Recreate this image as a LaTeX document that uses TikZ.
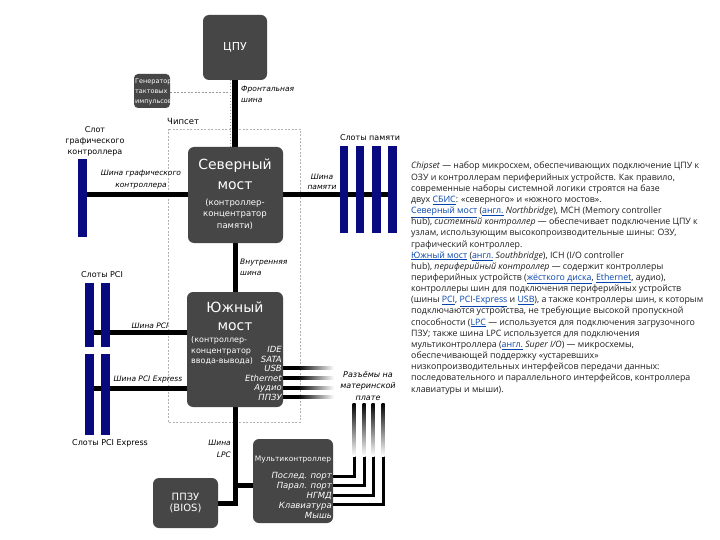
\documentclass[tikz,border=0pt]{standalone}
\usepackage{fontspec}
\setmainfont{DejaVu Sans}
\newfontfamily\parfont{Open Sans}
\usetikzlibrary{calc,backgrounds}
\definecolor{boxgray}{RGB}{70,70,70}
\definecolor{slotblue}{RGB}{10,10,128}
\definecolor{linkblue}{RGB}{6,69,173}
\definecolor{partext}{RGB}{30,30,30}
\newcommand\lnk[1]{\textcolor{linkblue}{\underline{#1}}}
\begin{document}
\begin{tikzpicture}[x=1pt,y=-1pt,
  box/.style={fill=boxgray, rounded corners=6pt, inner sep=0pt, outer sep=0pt},
  slot/.style={fill=slotblue, inner sep=0pt, outer sep=0pt},
  bus/.style={line width=5pt, black},
  lbl/.style={inner sep=0pt, align=center, font=\fontsize{8}{11}\selectfont},
  ilbl/.style={inner sep=0pt, align=center, font=\fontsize{7.5}{11}\selectfont\itshape},
  wtxt/.style={inner sep=0pt, text=white, align=center},
  chipset/.style={draw=gray!60, dashed, dash pattern=on 2pt off 1.5pt, line width=0.7pt}
]
\useasboundingbox (0,0) rectangle (720,540);

% boxes
\node[box, minimum width=64pt, minimum height=65pt] (cpu) at (235,47.5) {};
\node[box, rounded corners=4pt, minimum width=36pt, minimum height=34pt] (clk) at (152,91) {};
\node[box, minimum width=95pt, minimum height=96pt] (nb) at (235.5,195) {};
\node[box, minimum width=96pt, minimum height=115pt] (sb) at (235,349.5) {};
\node[box, minimum width=80pt, minimum height=84pt] (mc) at (293,481) {};
\node[box, minimum width=65pt, minimum height=50pt] (bios) at (185.5,503) {};

% slots
\node[slot, minimum width=9pt, minimum height=78pt] (gslot) at (82.5,198) {};
\node[slot, minimum width=8.5pt, minimum height=87pt] (m1) at (344,189.5) {};
\node[slot, minimum width=8.5pt, minimum height=87pt] (m2) at (360,189.5) {};
\node[slot, minimum width=8.5pt, minimum height=87pt] (m3) at (376.5,189.5) {};
\node[slot, minimum width=8.5pt, minimum height=87pt] (m4) at (392.5,189.5) {};
\node[slot, minimum width=9pt, minimum height=64pt] (pci1) at (89.5,315) {};
\node[slot, minimum width=9pt, minimum height=64pt] (pci2) at (105.5,315) {};
\node[slot, minimum width=9pt, minimum height=81pt] (pcie1) at (89.5,394.5) {};
\node[slot, minimum width=9pt, minimum height=81pt] (pcie2) at (105.5,394.5) {};

\coordinate (clkj) at (230,92);
\coordinate (fsbtop) at (230,80);
\coordinate (fsbbot) at (230,147);

\begin{pgfonlayer}{background}
  \fill[white] (0,0) rectangle (720,540);
  \draw[chipset] (168,129) rectangle (300,422);
  \draw[gray!80, dashed, dash pattern=on 2pt off 1.5pt, line width=0.8pt] (clk.east |- clkj) -- (clkj);
  \draw[gray!80, dashed, dash pattern=on 1.5pt off 1.5pt, line width=0.8pt] (fsbtop) -- (fsbbot);
  \draw[bus, line width=6pt] (cpu.south) -- (nb.north -| cpu.south);
  \draw[bus] (nb.south -| sb.north) -- (sb.north);
  \draw[bus] (gslot.center |- nb.west) -- (nb.west);
  \draw[bus] (nb.east) -- (m4.center |- nb.east);
  \draw[bus] (pci1.center |- 0,332) -- (sb.west |- 0,332);
  \draw[bus] (pcie1.center |- 0,388) -- (sb.west |- 0,388);
  \draw[bus] (sb.south) -- (sb.south |- bios.east) -- (bios.east);
  \draw[bus] (sb.south |- 0,485) -- (mc.west |- 0,485);
  % connectors to board sockets
  \foreach \yy in {368,378,388,397} {
    \fill[black] (283,{\yy-1.75}) rectangle (298,{\yy+1.75});
    \shade[left color=black, right color=white] (298,{\yy-1.75}) rectangle (334,{\yy+1.75});
  }
  \foreach \yy/\xx in {476/354,485/364,495/373,504/383} {
    \draw[line width=3pt] (mc.east |- 0,\yy) -- (\xx,\yy) -- (\xx,455);
    \shade[top color=black, bottom color=white] ({\xx-1.5},403) rectangle ({\xx+1.5},456);
  }
\end{pgfonlayer}

% box texts
\node[wtxt, font=\fontsize{11}{13}\selectfont] (cputxt) at (cpu.center) {ЦПУ};
\begin{scope}
  \clip[rounded corners=4pt] (clk.north west) rectangle (clk.south east);
  \node[wtxt, anchor=west, align=left, font=\fontsize{6.5}{10}\selectfont] (clktxt) at (135,92) {Генератор\\тактовых\\импульсов};
\end{scope}
\node[wtxt, font=\fontsize{14}{16}\selectfont] (nbt1) at (235,166) {Северный};
\node[wtxt, font=\fontsize{14}{16}\selectfont] (nbt2) at (235,186) {мост};
\node[wtxt, font=\fontsize{8.5}{11.5}\selectfont] (nbt3) at (235,214) {(контроллер-\\концентратор\\памяти)};
\node[wtxt, font=\fontsize{14}{16}\selectfont] (sbt1) at (235,307) {Южный};
\node[wtxt, font=\fontsize{14}{16}\selectfont] (sbt2) at (235,327) {мост};
\node[wtxt, anchor=west, align=left, font=\fontsize{8}{10.5}\selectfont] (sbt3) at (191,351) {(контроллер-\\концентратор\\ввода-вывода)};
\node[wtxt, anchor=east, align=right, font=\fontsize{8.5}{9.6}\selectfont\itshape] (sbports) at (282,373.5) {IDE\\SATA\\USB\\Ethernet\\Аудио\\ППЗУ};
\begin{scope}
  \clip[rounded corners=6pt] (mc.north west) rectangle (mc.south east);
  \node[wtxt, font=\fontsize{7.5}{9}\selectfont] (mct) at (293,460) {Мультиконтроллер};
\end{scope}
\node[wtxt, anchor=east, align=right, font=\fontsize{8.5}{10}\selectfont\itshape] (mcports) at (332,495.5) {Послед. порт\\Парал. порт\\НГМД\\Клавиатура\\Мышь};
\node[wtxt, font=\fontsize{10}{11.5}\selectfont] (biost) at (bios.center) {ППЗУ\\(BIOS)};

% labels
\node[ilbl, anchor=west, align=left] (fsbl) at (241,94.5) {Фронтальная\\шина};
\node[lbl, anchor=west, font=\fontsize{8.5}{10}\selectfont] (chipl) at (167,121) {Чипсет};
\node[lbl] (gslotl) at (95,141) {Слот\\графического\\контроллера};
\node[ilbl, font=\fontsize{7.5}{11.5}\selectfont\itshape] (gbusl) at (141,179.5) {Шина графического\\контроллера};
\node[lbl] (meml) at (370,138) {Слоты памяти};
\node[ilbl, font=\fontsize{7.5}{10}\selectfont\itshape] (membl) at (322,182) {Шина\\памяти};
\node[ilbl, anchor=west, align=left] (intl) at (240,267.5) {Внутренняя\\шина};
\node[lbl] (pcil) at (102,275) {Слоты PCI};
\node[ilbl] (pcibl) at (150,326) {Шина PCI};
\node[ilbl] (pciebl) at (148,379) {Шина PCI Express};
\node[lbl] (pciel) at (110,443) {Слоты PCI Express};
\node[ilbl, font=\fontsize{8}{11.5}\selectfont\itshape] (sockl) at (368,386) {Разъёмы на\\материнской\\плате};
\node[ilbl, anchor=east, align=right, font=\fontsize{7.5}{12}\selectfont\itshape] (lpcl) at (231,449) {Шина\\LPC};

% paragraph
\foreach \t [count=\i] in {
  {\textit{Chipset} — набор микросхем, обеспечивающих подключение ЦПУ к},
  {ОЗУ и контроллерам периферийных устройств. Как правило,},
  {современные наборы системной логики строятся на базе},
  {двух \lnk{СБИС}: «северного» и «южного мостов».},
  {\lnk{Северный мост} (\lnk{англ.} \textit{Northbridge}), MCH (Memory controller},
  {hub), \textit{системный контроллер} — обеспечивает подключение ЦПУ к},
  {узлам, использующим высокопроизводительные шины: ОЗУ,},
  {графический контроллер.},
  {\lnk{Южный мост} (\lnk{англ.} \textit{Southbridge}), ICH (I/O controller},
  {hub), \textit{периферийный контроллер} — содержит контроллеры},
  {периферийных устройств (\lnk{жёсткого диска}, \lnk{Ethernet}, аудио),},
  {контроллеры шин для подключения периферийных устройств},
  {(шины \lnk{PCI}, \lnk{PCI-Express} и \lnk{USB}), а также контроллеры шин, к которым},
  {подключаются устройства, не требующие высокой пропускной},
  {способности (\lnk{LPC} — используется для подключения загрузочного},
  {ПЗУ; также шина LPC используется для подключения},
  {мультиконтроллера (\lnk{англ.} \textit{Super I/O}) — микросхемы,},
  {обеспечивающей поддержку «устаревших»},
  {низкопроизводительных интерфейсов передачи данных:},
  {последовательного и параллельного интерфейсов, контроллера},
  {клавиатуры и мыши).}
} {
  \node[anchor=base west, inner sep=0pt, text=partext, font=\parfont\fontsize{8.8}{11}\selectfont] (p\i) at (411,{169+11.15*(\i-1)}) {\t};
}
\end{tikzpicture}
\end{document}
